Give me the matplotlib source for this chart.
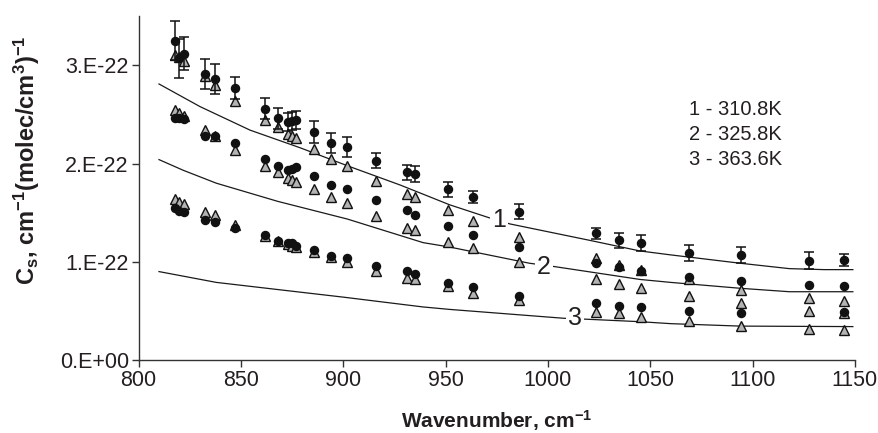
import numpy as np
import matplotlib
matplotlib.use('Agg')
import matplotlib.pyplot as plt
from matplotlib.ticker import FuncFormatter

plt.rcParams['font.family'] = ['Liberation Sans', 'DejaVu Sans']
plt.rcParams['mathtext.fontset'] = 'custom'
plt.rcParams['mathtext.rm'] = 'Liberation Sans:bold'
plt.rcParams['mathtext.bf'] = 'Liberation Sans:bold'
plt.rcParams['mathtext.it'] = 'Liberation Sans:bold'
plt.rcParams['mathtext.default'] = 'bf'

# wavenumbers of measured points, cm-1
wn = [818, 820, 822, 832.5, 837.5, 847, 862, 868, 873, 875, 877, 885.5, 894, 902,
      916, 931, 935, 951, 963.5, 986, 1023.5, 1034.5, 1045.5, 1069, 1094.5, 1127.5, 1144.5]

# values in units of 1e-22
c1_circ = [3.25, 3.07, 3.12, 2.91, 2.86, 2.77, 2.56, 2.46, 2.42, 2.43, 2.44, 2.32, 2.21, 2.17,
           2.03, 1.91, 1.89, 1.74, 1.66, 1.51, 1.29, 1.22, 1.19, 1.09, 1.07, 1.01, 1.015]
c1_err = [0.20, 0.20, 0.17, 0.15, 0.15, 0.11, 0.11, 0.11, 0.09, 0.09, 0.09, 0.11, 0.10, 0.10,
          0.08, 0.08, 0.08, 0.076, 0.06, 0.073, 0.056, 0.075, 0.08, 0.08, 0.08, 0.085, 0.063]
c1_tri = [3.11, 3.08, 3.04, 2.89, 2.80, 2.64, 2.44, 2.37, 2.30, 2.28, 2.26, 2.15, 2.05, 1.98,
          1.82, 1.69, 1.66, 1.53, 1.41, 1.25, 1.04, 0.97, 0.92, 0.82, 0.71, 0.63, 0.60]

c2_circ = [2.46, 2.46, 2.45, 2.28, 2.28, 2.21, 2.05, 1.98, 1.93, 1.94, 1.96, 1.87, 1.78, 1.74,
           1.63, 1.53, 1.48, 1.36, 1.27, 1.15, 0.985, 0.95, 0.905, 0.85, 0.80, 0.76, 0.75]
c2_tri = [2.55, 2.51, 2.48, 2.34, 2.28, 2.14, 1.98, 1.91, 1.85, 1.83, 1.81, 1.74, 1.66, 1.60,
          1.47, 1.34, 1.32, 1.20, 1.14, 1.00, 0.82, 0.77, 0.73, 0.65, 0.58, 0.50, 0.475]

c3_circ = [1.55, 1.52, 1.51, 1.43, 1.40, 1.34, 1.27, 1.21, 1.19, 1.19, 1.16, 1.12, 1.06, 1.035,
           0.96, 0.91, 0.875, 0.78, 0.745, 0.655, 0.58, 0.55, 0.54, 0.50, 0.48, np.nan, 0.49]
c3_tri = [1.64, 1.61, 1.59, 1.51, 1.48, 1.375, 1.26, 1.21, 1.18, 1.16, 1.15, 1.10, 1.045, 1.00,
          0.91, 0.83, 0.825, 0.75, 0.68, 0.61, 0.49, 0.475, 0.44, 0.40, 0.35, 0.315, 0.305]

small_err = 0.012

# model curves
m1_x = [810, 830, 854.5, 879, 903, 928, 952, 971, 981.5, 1020, 1045, 1060, 1094, 1118, 1135, 1149]
m1_y = [2.81, 2.58, 2.34, 2.16, 1.97, 1.78, 1.58, 1.45, 1.385, 1.22, 1.11, 1.07, 0.985, 0.93, 0.92, 0.92]
m2_x = [810, 822, 838, 868, 902, 939, 952, 991, 1003.5, 1045, 1060, 1094, 1118, 1149]
m2_y = [2.04, 1.93, 1.80, 1.615, 1.435, 1.195, 1.15, 0.985, 0.95, 0.82, 0.79, 0.73, 0.695, 0.695]
m3_x = [810, 838, 871, 900, 939, 952, 1007.6, 1019, 1045, 1060, 1094, 1149]
m3_y = [0.90, 0.79, 0.71, 0.64, 0.54, 0.515, 0.425, 0.415, 0.39, 0.37, 0.345, 0.34]

curve_labels = ['1', '2', '3']
label_pos = [(976, 1.43), (998, 0.95), (1013, 0.425)]
temps = ['1 - 310.8K', '2 - 325.8K', '3 - 363.6K']

txt = '#231f20'
fig = plt.figure(figsize=(8.79, 4.33), dpi=100)
ax = fig.add_axes([0.1576, 0.1686, 0.815, 0.794])

for mx, my in [(m1_x, m1_y), (m2_x, m2_y), (m3_x, m3_y)]:
    ax.plot(mx, my, color='#1a1a1a', lw=0.9, zorder=1)

for lab, (lx, ly) in zip(curve_labels, label_pos):
    ax.text(lx, ly, lab, fontsize=18, color=txt, ha='center', va='center', zorder=2,
            bbox=dict(facecolor='white', edgecolor='none', pad=1.5))

tri_kw = dict(marker='^', ls='none', ms=7.5, mfc='#b3b3b3', mec='#111111', mew=1.0, zorder=3)
for tri in [c1_tri, c2_tri, c3_tri]:
    ax.plot(wn, tri, **tri_kw)

ax.errorbar(wn, c1_circ, yerr=c1_err, fmt='o', ms=5.8, color='#111111', ecolor='#111111',
            elinewidth=1.1, capsize=3.5, capthick=1.1, zorder=4)
for circ in [c2_circ, c3_circ]:
    ax.errorbar(wn, circ, yerr=small_err, fmt='o', ms=5.8, color='#111111', ecolor='#111111',
                elinewidth=1.0, capsize=2.5, capthick=1.0, zorder=4)

for i, t in enumerate(temps):
    ax.text(1069, 2.55 - 0.255 * i, t, fontsize=14.5, color=txt, ha='left', va='center')

ax.set_xlim(800, 1150)
ax.set_ylim(0, 3.5)
ax.set_xticks(np.arange(800, 1151, 50))
ax.set_yticks([0, 1, 2, 3])
ax.yaxis.set_major_formatter(FuncFormatter(lambda v, p: '0.E+00' if v == 0 else '%d.E-22' % v))
ax.spines['top'].set_visible(False)
ax.spines['right'].set_visible(False)
for s in ['left', 'bottom']:
    ax.spines[s].set_color('#333333')
    ax.spines[s].set_linewidth(1.0)
ax.tick_params(direction='out', length=5, width=1.0, colors='#333333', labelsize=15.5,
               labelcolor=txt, pad=2)

ax.set_xlabel('Wavenumber, cm$^{-1}$', fontsize=15, fontweight='bold', color=txt)
ax.set_ylabel('C$_s$, cm$^{-1}$(molec/cm$^3$)$^{-1}$', fontsize=17, fontweight='bold',
              color=txt)
ax.xaxis.set_label_coords(0.5, -0.14)
ax.yaxis.set_label_coords(-0.135, 0.58)

fig.savefig('out.png', dpi=100)
